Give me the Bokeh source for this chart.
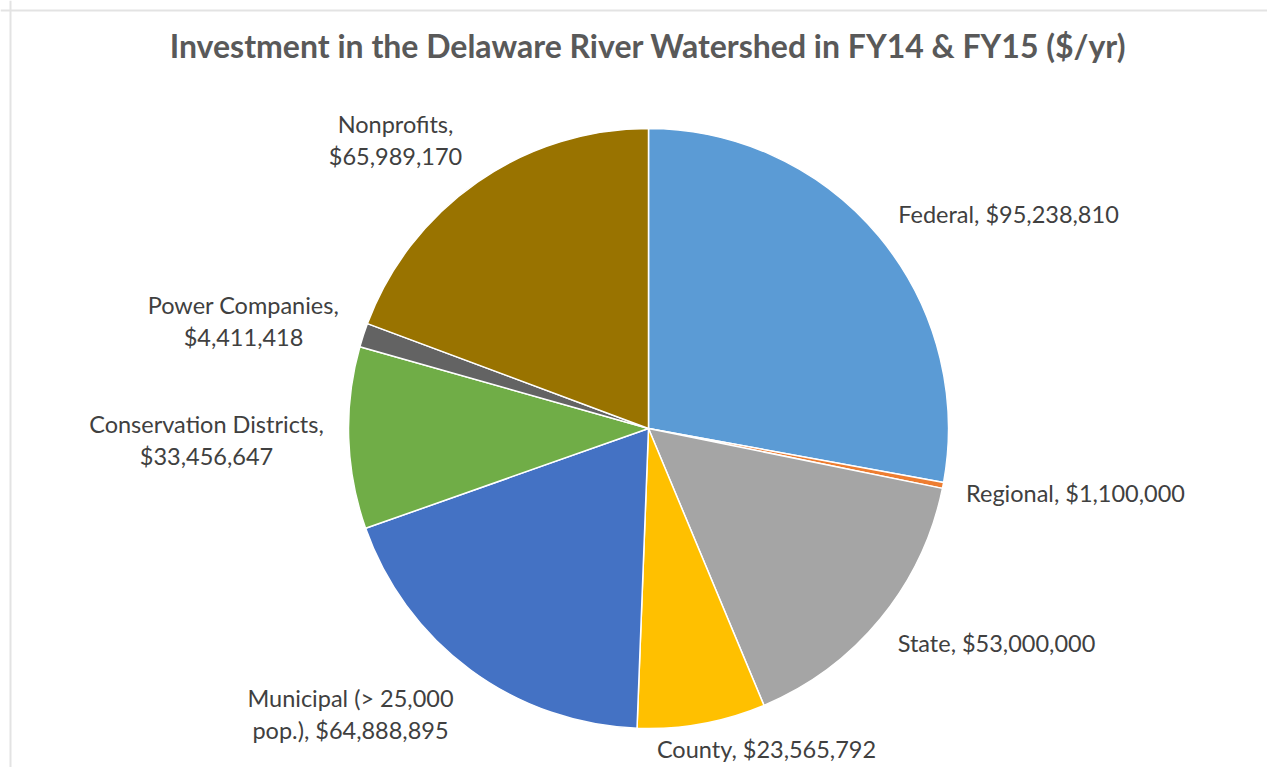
import math
from bokeh.plotting import figure
from bokeh.models import Range1d, ColumnDataSource, Span
from bokeh.core.properties import value
from bokeh.embed import file_html
from bokeh.resources import INLINE

# ---- data ----
categories = ["Federal", "Regional", "State", "County", "Municipal (> 25,000 pop.)",
              "Conservation Districts", "Power Companies", "Nonprofits"]
amounts = [95238810, 1100000, 53000000, 23565792, 64888895, 33456647, 4411418, 65989170]
label_lines = [
    ["Federal, $95,238,810"],
    ["Regional, $1,100,000"],
    ["State, $53,000,000"],
    ["County, $23,565,792"],
    ["Municipal (> 25,000", "pop.), $64,888,895"],
    ["Conservation Districts,", "$33,456,647"],
    ["Power Companies,", "$4,411,418"],
    ["Nonprofits,", "$65,989,170"],
]
title_text = "Investment in the Delaware River Watershed in FY14 & FY15 ($/yr)"

# ---- styles / layout ----
colors = ["#5B9BD5", "#ED7D31", "#A5A5A5", "#FFC000", "#4472C4", "#70AD47", "#636363", "#997300"]
W, H = 1267, 767
IMG_H = 783
CX, CY_PX, R = 648, 428, 300
# label centres in picture pixels (layout)
label_pos = [(1008, 213), (1075, 492), (996, 642), (766, 748),
             (350, 713), (206, 439), (243, 320), (395, 139)]
LINE_GAP = 32
FONT = "Lato"

def py(y_px):
    return IMG_H - y_px

total = float(sum(amounts))
starts, ends = [], []
cum = 0.0
for a in amounts:
    s = math.pi / 2 - 2 * math.pi * cum / total
    cum += a
    e = math.pi / 2 - 2 * math.pi * cum / total
    starts.append(s)
    ends.append(e)

src = ColumnDataSource(dict(x=[CX] * len(amounts), y=[py(CY_PX)] * len(amounts),
                            start=starts, end=ends, color=colors, cat=categories))

p = figure(width=W, height=H, output_backend="svg", toolbar_location=None,
           x_range=Range1d(0, W), y_range=Range1d(IMG_H - H, IMG_H),
           x_axis_location=None, y_axis_location=None, min_border=0)
p.grid.visible = False
p.outline_line_color = None
p.background_fill_color = "white"
p.border_fill_color = "white"

p.wedge(x="x", y="y", radius=R, start_angle="start", end_angle="end",
        direction="clock", fill_color="color", line_color="white", line_width=1.5,
        source=src)

# labels
tx, ty, tt = [], [], []
for lines, (lx, ly) in zip(label_lines, label_pos):
    n = len(lines)
    for i, line in enumerate(lines):
        yy = ly + (i - (n - 1) / 2) * LINE_GAP
        tx.append(lx)
        ty.append(py(yy))
        tt.append(line)
p.text(x=tx, y=ty, text=tt, text_align="center", text_baseline="middle",
       text_font=value(FONT), text_font_size="23.5px", text_color="#404040")

# title
p.text(x=[647.5], y=[py(45)], text=[title_text], text_align="center", text_baseline="middle",
       text_font=value(FONT), text_font_size="32px", text_font_style="bold",
       text_color="#595959")

# light frame (left and top edges)
p.add_layout(Span(location=10, dimension="height", line_color="#e3e3e3", line_width=2))
p.add_layout(Span(location=py(10), dimension="width", line_color="#e3e3e3", line_width=2))

open("out.html", "w").write(file_html(p, INLINE))
